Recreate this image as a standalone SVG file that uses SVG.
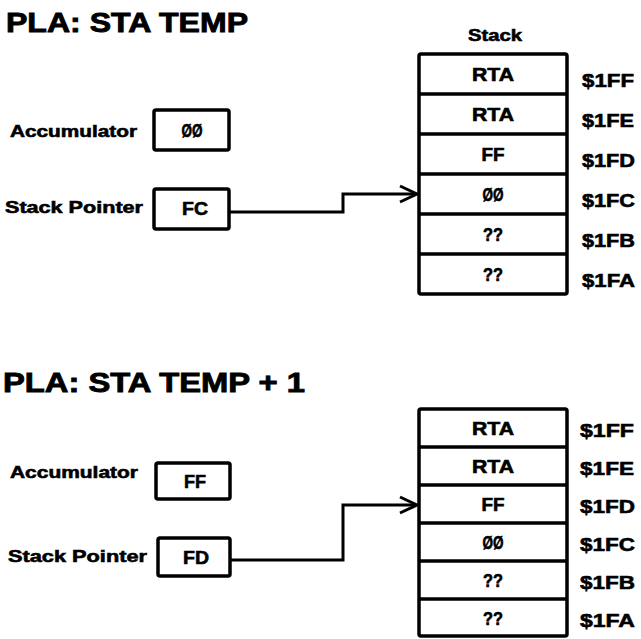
<svg xmlns="http://www.w3.org/2000/svg" width="641" height="639" viewBox="0 0 641 639">
<style>
text{font-family:"Liberation Sans",Arial,sans-serif;font-weight:bold;fill:#000;stroke:#000;stroke-width:0.6}
.title{font-size:28px;stroke-width:0.9}
.lbl{font-size:17px}
.val{font-size:18px;text-anchor:middle}
.addr{font-size:19px}
.box{fill:#fff;stroke:#000;stroke-width:3.5}
.div{stroke:#000;stroke-width:3.5}
.wire{fill:none;stroke:#000;stroke-width:3}
</style>
<rect width="641" height="639" fill="#fff"/>

<!-- Top panel -->
<text class="title" x="6" y="32" textLength="242" lengthAdjust="spacingAndGlyphs">PLA: STA TEMP</text>
<g id="top-acc">
<text class="lbl" x="10" y="137" textLength="127" lengthAdjust="spacingAndGlyphs">Accumulator</text>
<rect class="box" x="154" y="110" width="75" height="40" rx="2"/>
<text class="val" x="192" y="137" textLength="21" lengthAdjust="spacingAndGlyphs">ØØ</text>
</g>
<g id="top-sp">
<text class="lbl" x="5" y="213" textLength="138" lengthAdjust="spacingAndGlyphs">Stack Pointer</text>
<rect class="box" x="154" y="189" width="75" height="40" rx="2"/>
<text class="val" x="195" y="215" textLength="26" lengthAdjust="spacingAndGlyphs">FC</text>
</g>
<g id="top-stack">
<text class="lbl" x="495" y="41" text-anchor="middle" textLength="54" lengthAdjust="spacingAndGlyphs">Stack</text>
<rect class="box" x="419" y="54" width="148" height="240" rx="2"/>
<line class="div" x1="419" y1="94" x2="567" y2="94"/>
<line class="div" x1="419" y1="134" x2="567" y2="134"/>
<line class="div" x1="419" y1="174" x2="567" y2="174"/>
<line class="div" x1="419" y1="214" x2="567" y2="214"/>
<line class="div" x1="419" y1="254" x2="567" y2="254"/>
<text class="val" x="493" y="81" textLength="42" lengthAdjust="spacingAndGlyphs">RTA</text>
<text class="val" x="493" y="121" textLength="42" lengthAdjust="spacingAndGlyphs">RTA</text>
<text class="val" x="493" y="161" textLength="23" lengthAdjust="spacingAndGlyphs">FF</text>
<text class="val" x="493" y="201" textLength="21" lengthAdjust="spacingAndGlyphs">ØØ</text>
<text class="val" x="493" y="241" textLength="20" lengthAdjust="spacingAndGlyphs">??</text>
<text class="val" x="493" y="281" textLength="20" lengthAdjust="spacingAndGlyphs">??</text>
<text class="addr" x="582" y="87" textLength="52" lengthAdjust="spacingAndGlyphs">$1FF</text>
<text class="addr" x="582" y="127" textLength="52" lengthAdjust="spacingAndGlyphs">$1FE</text>
<text class="addr" x="582" y="167" textLength="53" lengthAdjust="spacingAndGlyphs">$1FD</text>
<text class="addr" x="582" y="207" textLength="53" lengthAdjust="spacingAndGlyphs">$1FC</text>
<text class="addr" x="582" y="247" textLength="53" lengthAdjust="spacingAndGlyphs">$1FB</text>
<text class="addr" x="582" y="287" textLength="53" lengthAdjust="spacingAndGlyphs">$1FA</text>
</g>

<!-- Bottom panel -->
<text class="title" x="3" y="392" textLength="302" lengthAdjust="spacingAndGlyphs">PLA: STA  TEMP + 1</text>
<g id="bot-acc">
<text class="lbl" x="10" y="478" textLength="128" lengthAdjust="spacingAndGlyphs">Accumulator</text>
<rect class="box" x="156" y="463" width="74" height="36" rx="2"/>
<text class="val" x="195" y="488" textLength="22" lengthAdjust="spacingAndGlyphs">FF</text>
</g>
<g id="bot-sp">
<text class="lbl" x="8" y="562" textLength="139" lengthAdjust="spacingAndGlyphs">Stack Pointer</text>
<rect class="box" x="158" y="538" width="72" height="38" rx="2"/>
<text class="val" x="196" y="564" textLength="26" lengthAdjust="spacingAndGlyphs">FD</text>
</g>
<g id="bot-stack">
<rect class="box" x="419" y="409" width="148" height="227" rx="2"/>
<line class="div" x1="419" y1="447" x2="567" y2="447"/>
<line class="div" x1="419" y1="485" x2="567" y2="485"/>
<line class="div" x1="419" y1="523" x2="567" y2="523"/>
<line class="div" x1="419" y1="561" x2="567" y2="561"/>
<line class="div" x1="419" y1="599" x2="567" y2="599"/>
<text class="val" x="493" y="435" textLength="42" lengthAdjust="spacingAndGlyphs">RTA</text>
<text class="val" x="493" y="473" textLength="42" lengthAdjust="spacingAndGlyphs">RTA</text>
<text class="val" x="493" y="511" textLength="23" lengthAdjust="spacingAndGlyphs">FF</text>
<text class="val" x="493" y="549" textLength="21" lengthAdjust="spacingAndGlyphs">ØØ</text>
<text class="val" x="493" y="587" textLength="20" lengthAdjust="spacingAndGlyphs">??</text>
<text class="val" x="493" y="625" textLength="20" lengthAdjust="spacingAndGlyphs">??</text>
<text class="addr" x="580" y="437" textLength="54" lengthAdjust="spacingAndGlyphs">$1FF</text>
<text class="addr" x="580" y="475" textLength="54" lengthAdjust="spacingAndGlyphs">$1FE</text>
<text class="addr" x="580" y="513" textLength="55" lengthAdjust="spacingAndGlyphs">$1FD</text>
<text class="addr" x="580" y="551" textLength="55" lengthAdjust="spacingAndGlyphs">$1FC</text>
<text class="addr" x="580" y="589" textLength="55" lengthAdjust="spacingAndGlyphs">$1FB</text>
<text class="addr" x="580" y="627" textLength="55" lengthAdjust="spacingAndGlyphs">$1FA</text>
</g>

<g id="connectors">
<polyline class="wire" points="230,212 343,212 343,194 416,194"/>
<polyline class="wire" points="400,186 417,194 400,202"/>
<polyline class="wire" points="230,560 343,560 343,505 416,505"/>
<polyline class="wire" points="400,497 417,505 400,513"/>
</g>
</svg>
